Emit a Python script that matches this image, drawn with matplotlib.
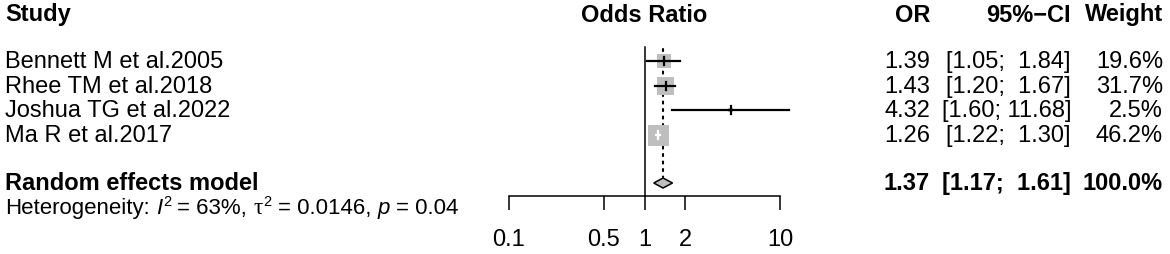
import matplotlib
matplotlib.use("Agg")
import matplotlib.pyplot as plt
from matplotlib.patches import Rectangle, Polygon
import numpy as np

studies = ["Bennett M et al.2005", "Rhee TM et al.2018", "Joshua TG et al.2022", "Ma R et al.2017"]
odds = [1.39, 1.43, 4.32, 1.26]
lower = [1.05, 1.20, 1.60, 1.22]
upper = [1.84, 1.67, 11.68, 1.30]
weights = [19.6, 31.7, 2.5, 46.2]
pooled = 1.37
pooled_lo = 1.17
pooled_hi = 1.61
i2 = "63%"
tau2 = "0.0146"
pval = "0.04"
tick_vals = [0.1, 0.5, 1, 2, 10]
tick_labels = ["0.1", "0.5", "1", "2", "10"]

plt.rcParams["font.family"] = ["Liberation Sans", "DejaVu Sans"]
fs = 17

fig = plt.figure(figsize=(11.7, 2.55), dpi=100)
renderer = fig.canvas.get_renderer()

# text layer, pixel coordinates
tx = fig.add_axes([0, 0, 1, 1])
tx.set_xlim(0, 1170)
tx.set_ylim(255, 0)
tx.axis("off")

row_y = [62, 87, 111, 136]
pool_y = 184
het_y = 209

tx.text(5, 15, "Study", fontsize=fs, fontweight="bold", va="center")
tx.text(644, 15, "Odds Ratio", fontsize=fs, fontweight="bold", va="center", ha="center")
tx.text(930, 15, "OR", fontsize=fs, fontweight="bold", va="center", ha="right")
tx.text(1071, 15, "95%\u2212CI", fontsize=fs, fontweight="bold", va="center", ha="right")
tx.text(1163, 15, "Weight", fontsize=fs, fontweight="bold", va="center", ha="right")

for i in range(len(studies)):
    y = row_y[i]
    tx.text(5, y, studies[i], fontsize=fs, va="center")
    tx.text(930, y, f"{odds[i]:.2f}", fontsize=fs, va="center", ha="right")
    if upper[i] < 10:
        ci = f"[{lower[i]:.2f};  {upper[i]:.2f}]"
    else:
        ci = f"[{lower[i]:.2f}; {upper[i]:.2f}]"
    tx.text(1071, y, ci, fontsize=fs, va="center", ha="right")
    tx.text(1163, y, f"{weights[i]:.1f}%", fontsize=fs, va="center", ha="right")

tx.text(5, pool_y, "Random effects model", fontsize=fs, fontweight="bold", va="center")
tx.text(930, pool_y, f"{pooled:.2f}", fontsize=fs, fontweight="bold", va="center", ha="right")
tx.text(1071, pool_y, f"[{pooled_lo:.2f};  {pooled_hi:.2f}]", fontsize=fs, fontweight="bold", va="center", ha="right")
tx.text(1163, pool_y, f"{sum(weights):.1f}%", fontsize=fs, fontweight="bold", va="center", ha="right")

# heterogeneity line, laid out piece by piece
hfs = 16
sp = 0.278 * hfs * 100 / 72
pieces = [
    ("Heterogeneity:", {}, 0, sp),
    ("I", {"style": "italic"}, 0, 1),
    ("2", {"fontsize": 10.5}, -7, sp),
    (f"= {i2},", {}, 0, sp),
    ("\u03c4", {"family": "Liberation Serif", "fontsize": 17}, 0, 1),
    ("2", {"fontsize": 10.5}, -7, sp),
    (f"= {tau2},", {}, 0, sp),
    ("p", {"style": "italic"}, 0, sp),
    (f"= {pval}", {}, 0, 0),
]
x = 5
for s, kw, dy, gap in pieces:
    opts = {"fontsize": hfs}
    opts.update(kw)
    t = tx.text(x, het_y + dy, s, va="center", **opts)
    x += t.get_window_extent(renderer).width + gap

# forest panel
ax = fig.add_axes([509 / 1170, 58 / 255, 271 / 1170, 197 / 255])
ax.patch.set_alpha(0)
ax.set_xscale("log")
ax.set_xlim(0.1, 10)
ax.set_ylim(197, 0)
for s in ["top", "right", "left"]:
    ax.spines[s].set_visible(False)
ax.spines["bottom"].set_linewidth(1.1)
ax.set_yticks([])
ax.set_xticks(tick_vals)
ax.set_xticklabels(tick_labels, fontsize=fs)
ax.minorticks_off()
ax.tick_params(axis="x", length=10, width=1.1, pad=13)

ax.plot([1, 1], [48, 197], color="black", lw=1.1, clip_on=False)
ax.plot([pooled, pooled], [50, pool_y - 6], color="black", lw=1.5,
        linestyle=(0, (1, 2.6)), dash_capstyle="round", clip_on=False)

scale = 21 / np.sqrt(max(weights))
for i in range(len(studies)):
    y = row_y[i]
    side = scale * np.sqrt(weights[i])
    lx = np.log10(odds[i])
    # square sized in pixels around the estimate
    x0 = 10 ** (lx - side / 2 / 135.5)
    x1 = 10 ** (lx + side / 2 / 135.5)
    ax.add_patch(Rectangle((x0, y - side / 2), x1 - x0, side, facecolor="#BEBEBE",
                           edgecolor="none", zorder=2))
    inside = lower[i] >= x0 and upper[i] <= x1
    col = "white" if inside else "black"
    ax.plot([lower[i], upper[i]], [y, y], color=col, lw=1.6, zorder=3, clip_on=False)
    ax.plot([odds[i], odds[i]], [y - 4, y + 4], color=col, lw=1.6, zorder=3)

ax.add_patch(Polygon([(pooled_lo, pool_y), (pooled, pool_y - 5), (pooled_hi, pool_y), (pooled, pool_y + 5)],
                     closed=True, facecolor="#BEBEBE", edgecolor="black", lw=1.1, zorder=3))

fig.savefig("out.png", dpi=100)
